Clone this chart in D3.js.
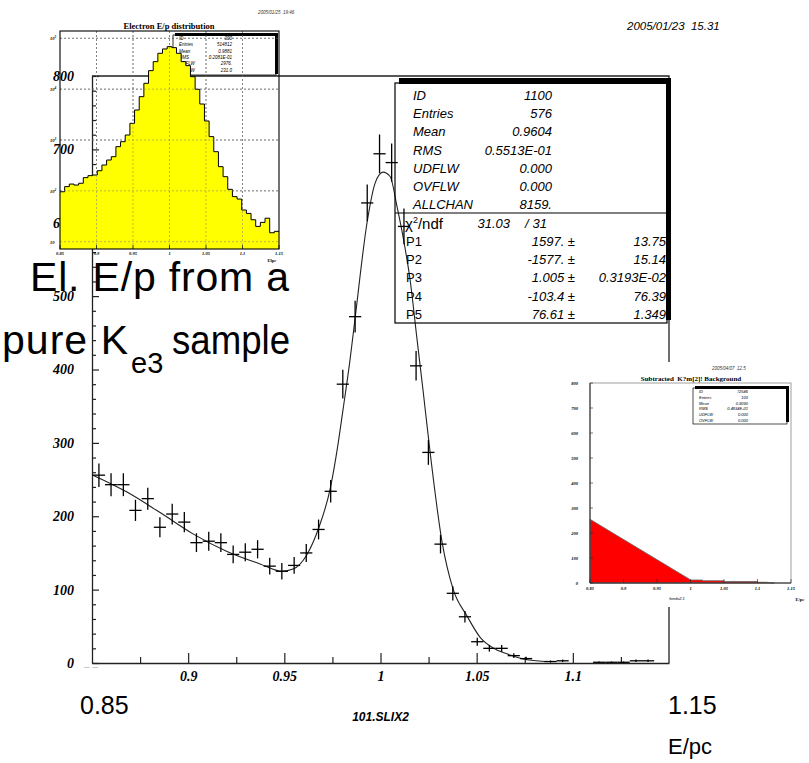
<!DOCTYPE html>
<html><head><meta charset="utf-8">
<script src="https://cdn.jsdelivr.net/npm/d3@7"></script>
<style>body{margin:0;background:#fff}svg{display:block}</style>
</head><body>
<svg id="c" width="809" height="763"></svg>
<script>
// ---------- main histogram (ID 1100) ----------
const binCenters = [0.8536,0.8599,0.8663,0.8726,0.8790,0.8853,0.8917,0.8980,0.9043,0.9107,0.9170,0.9234,0.9297,0.9361,0.9424,0.9487,0.9551,0.9614,0.9678,0.9741,0.9804,0.9868,0.9931,0.9995,1.0058,1.0122,1.0185,1.0249,1.0312,1.0376,1.0439,1.0503,1.0566,1.0630,1.0693,1.0757,1.0884,1.0947,1.1137,1.1201,1.1264,1.1328,1.1391];
const counts = [256,243,243,208,224,185,203,192,164,166,164,148,151,155,132,125,133,150,182,234,380,472,627,694,682,595,405,287,162,95,63,29,20,20,10,6,2,3,1,1,1,3,3];
const errors = [16,15.6,15.6,14.4,15,13.6,14.2,13.9,12.8,12.9,12.8,12.2,12.3,12.4,11.5,11.2,11.5,12.2,13.5,15.3,19.5,21.7,25,26.3,26.1,24.4,20.1,16.9,12.7,9.7,7.9,5.4,4.5,4.5,3.2,2.4,1.4,1.7,1,1,1,1.7,1.7];
const binWidth = 0.00634;
const fitX = [0.8505,0.8682,0.8854,0.9025,0.9202,0.9374,0.9488,0.9545,0.9618,0.9680,0.9738,0.9779,0.9805,0.9840,0.9868,0.9930,0.9972,1.0013,1.0050,1.0086,1.0117,1.0154,1.0190,1.0221,1.0258,1.0320,1.0377,1.0450,1.0518,1.0596,1.0674,1.0752,1.0856];
const fitY = [256,233,205,176,152,135,125,128,148,185,237,298,345,410,470,600,654,669,663,622,581,522,441,372,287,165,101,64,35,19,11,5,2];
const xMajor = [0.9,0.95,1,1.05,1.1];
const xMinor = [0.875,0.925,0.975,1.025,1.075,1.125];
const yMajor = [0,100,200,300,400,500,600,700,800];
const yMinor = [20,40,60,80,120,140,160,180,220,240,260,280,320,340,360,380,420,440,460,480,520,540,560,580,620,640,660,680,720,740,760,780];
const statLabels = ["ID","Entries","Mean","RMS","UDFLW","OVFLW","ALLCHAN"];
const statValues = ["1100","576","0.9604","0.5513E-01","0.000","0.000","8159."];
const parLabels = ["P1","P2","P3","P4","P5"];
const parValues = ["1597.","-1577.","1.005","-103.4","76.61"];
const parErrors = ["13.75","15.14","0.3193E-02","76.39","1.349"];

// ---------- inset 1: Electron E/p distribution (log) ----------
const insetCounts = [96,121,136,130,141,182,199,205,249,322,404,470,740,927,1254,2128,3890,7116,13030,23120,34750,50700,61700,68500,65500,50700,34750,29000,17600,9930,5100,2366,1165,589,299,190,107,77,69,42,36,27,20,24,29,15,16];
const insetXTicks = [0.85,0.9,0.95,1,1.05,1.1,1.15];
const insetYDecades = [10,100,1000,10000,100000];
const insetYExp = ["","2","3","4","5"];
const inset1Labels = ["ID","Entries","Mean","RMS","UDFLW","OVFLW"];
const inset1Values = ["300","514812","0.9881","0.2081E-01","2976.","231.0"];

// ---------- inset 2: Subtracted background ----------
const bgX = [0.85,0.998,1.0,1.018,1.018,1.05,1.05,1.1,1.1,1.115,1.115,1.125];
const bgY = [255,16,12,12,9,9,6,6,3,3,1.5,0];
const inset2XTicks = [0.85,0.9,0.95,1,1.05,1.1,1.15];
const inset2XLabels = ["0.85","0.9","0.95","1","1.05","1.1","1.15"];
const inset2YTicks = [0,100,200,300,400,500,600,700,800];
const inset2Labels = ["ID","Entries","Mean","RMS","UDFLW","OVFLW"];
const inset2Values = ["72546","100","0.9090","0.4834E-01","0.000","0.000"];

const svg = d3.select("#c");
svg.append("rect").attr("width",809).attr("height",763).attr("fill","#fff");

const SERIF = "'Liberation Serif','DejaVu Serif',serif";
const SANS = "'Liberation Sans',Arial,sans-serif";

// ================= MAIN PLOT =================
const x = d3.scaleLinear([0.85,1.15],[92,669]);
const y = d3.scaleLinear([0,800],[663,76]);
const main = svg.append("g");

main.append("path").attr("d",`M${x(0.85)},${y(800)}H${x(1.15)}V${y(0)}`)
  .attr("fill","none").attr("stroke","#222").attr("stroke-width",1.3);

main.append("g").attr("transform",`translate(${x(0.85)},0)`)
  .call(d3.axisLeft(y).tickValues(yMajor).tickSizeInner(-7).tickSizeOuter(0).tickPadding(18).tickFormat(d3.format("d")));
main.append("g").attr("transform",`translate(${x(0.85)},0)`)
  .call(d3.axisLeft(y).tickValues(yMinor).tickSizeInner(-4).tickSizeOuter(0).tickFormat(""))
  .select(".domain").remove();
main.append("g").attr("transform",`translate(0,${y(0)})`)
  .call(d3.axisBottom(x).tickValues(xMajor).tickSizeInner(-10).tickSizeOuter(0).tickPadding(8).tickFormat(d => d3.format("")(d)));
main.append("g").attr("transform",`translate(0,${y(0)})`)
  .call(d3.axisBottom(x).tickValues(xMinor).tickSizeInner(-6).tickSizeOuter(0).tickFormat(""))
  .select(".domain").remove();
main.selectAll(".domain").attr("stroke","#222").attr("stroke-width",1.3);
main.selectAll(".tick line").attr("stroke","#222").attr("stroke-width",1.2);
main.selectAll(".tick text").attr("font-family",SERIF).attr("font-weight","bold")
  .attr("font-style","italic").attr("font-size",14).attr("fill","#000");

main.append("text").attr("x",x(0.85)-8).attr("y",y(0)+3).attr("font-size",10)
  .attr("fill","#bbb").attr("font-family",SANS).text("_ _");

// fit curve
const pts = fitX.map((v,i)=>[v,fitY[i]]);
main.append("path").datum(pts)
  .attr("d",d3.line().x(d=>x(d[0])).y(d=>y(d[1])).curve(d3.curveMonotoneX))
  .attr("fill","none").attr("stroke","#222").attr("stroke-width",1.1);

// crosses
const cr = main.append("g").attr("stroke","#000").attr("stroke-width",1.3);
binCenters.forEach((c,i)=>{
  cr.append("line").attr("x1",x(c-binWidth/2)).attr("x2",x(c+binWidth/2))
    .attr("y1",y(counts[i])).attr("y2",y(counts[i]));
  cr.append("line").attr("x1",x(c)).attr("x2",x(c))
    .attr("y1",y(counts[i]-errors[i])).attr("y2",y(counts[i]+errors[i]));
});

// stats box
const sb = main.append("g");
sb.append("rect").attr("x",399).attr("y",78).attr("width",272).attr("height",6).attr("fill","#000");
sb.append("rect").attr("x",666).attr("y",78).attr("width",5).attr("height",242).attr("fill","#000");
sb.append("rect").attr("x",395).attr("y",83).attr("width",272).attr("height",240)
  .attr("fill","none").attr("stroke","#000").attr("stroke-width",1.2);
sb.append("line").attr("x1",395).attr("x2",667).attr("y1",213).attr("y2",213)
  .attr("stroke","#000").attr("stroke-width",1.2);
const st = sb.append("g").attr("font-family",SANS).attr("font-style","italic").attr("font-size",13).attr("fill","#000");
statLabels.forEach((l,i)=>{
  st.append("text").attr("x",413).attr("y",100+i*18.2).text(l);
  st.append("text").attr("x",552).attr("y",100+i*18.2).attr("text-anchor","end").text(statValues[i]);
});
const chi = sb.append("text").attr("x",405).attr("y",229).attr("font-family",SANS).attr("font-size",15);
chi.append("tspan").text("χ");
chi.append("tspan").attr("font-size",9).attr("dy",-6).text("2");
chi.append("tspan").attr("dy",6).text("/ndf");
st.append("text").attr("x",510).attr("y",228).attr("text-anchor","end").text("31.03");
st.append("text").attr("x",525).attr("y",228).text("/");
st.append("text").attr("x",547).attr("y",228).attr("text-anchor","end").text("31");
parLabels.forEach((l,i)=>{
  const yy = 246+i*18.2;
  st.append("text").attr("x",406).attr("y",yy).attr("font-style","normal").text(l);
  st.append("text").attr("x",575).attr("y",yy).attr("text-anchor","end").text(parValues[i]+" \u00b1");
  st.append("text").attr("x",666).attr("y",yy).attr("text-anchor","end").text(parErrors[i]);
});

svg.append("text").attr("x",x(1)).attr("y",721).attr("text-anchor","middle")
  .attr("font-family",SANS).attr("font-style","italic").attr("font-weight","bold").attr("font-size",12).text("101.SLIX2");
svg.append("text").attr("x",627).attr("y",30).attr("font-family",SANS)
  .attr("font-style","italic").attr("font-size",11.5).attr("xml:space","preserve").text("2005/01/23  15.31");

// ================= INSET 1 (log) =================
const xi = d3.scaleLinear([0.85,1.15],[60,279]);
const yi = d3.scaleLog([10,100000],[241.7,38.3]);
const ins = svg.append("g");
ins.append("text").attr("x",258).attr("y",14).attr("font-family",SANS).attr("font-style","italic")
  .attr("font-size",4.5).attr("fill","#333").attr("xml:space","preserve").text("2005/01/25  19:46");
ins.append("text").attr("x",169).attr("y",29).attr("text-anchor","middle").attr("font-family",SERIF)
  .attr("font-weight","bold").attr("font-size",8.5).text("Electron E/p distribution");
const grid = ins.append("g").attr("stroke","#444").attr("stroke-width",0.6).attr("stroke-dasharray","2,2");
insetXTicks.slice(1,-1).forEach(t=>grid.append("line").attr("x1",xi(t)).attr("x2",xi(t)).attr("y1",31).attr("y2",249));
insetYDecades.forEach(t=>grid.append("line").attr("x1",60).attr("x2",279).attr("y1",yi(t)).attr("y2",yi(t)));
const isb = ins.append("g");
isb.append("rect").attr("x",175).attr("y",33).attr("width",103).attr("height",3).attr("fill","#000");
isb.append("rect").attr("x",275).attr("y",33).attr("width",3).attr("height",41).attr("fill","#000");
isb.append("rect").attr("x",173).attr("y",35).attr("width",103).attr("height",40).attr("fill","none").attr("stroke","#000").attr("stroke-width",0.8);
inset1Labels.forEach((l,i)=>{
  isb.append("text").attr("x",179).attr("y",40+i*6.3).attr("font-family",SANS).attr("font-style","italic").attr("font-size",4.5).text(l);
  isb.append("text").attr("x",232).attr("y",40+i*6.3).attr("text-anchor","end").attr("font-family",SANS).attr("font-style","italic").attr("font-size",4.5).text(inset1Values[i]);
});
const wI = 0.3/insetCounts.length;
const hp = insetCounts.map((c,i)=>[0.85+i*wI,c]);
hp.push([1.15,insetCounts[insetCounts.length-1]]);
ins.append("path").datum(hp)
  .attr("d",d3.area().x(d=>xi(d[0])).y0(249).y1(d=>yi(d[1])).curve(d3.curveStepAfter))
  .attr("fill","#ffff00");
ins.append("path").datum(hp)
  .attr("d",d3.line().x(d=>xi(d[0])).y(d=>yi(d[1])).curve(d3.curveStepAfter))
  .attr("fill","none").attr("stroke","#000").attr("stroke-width",1);
const grid2 = ins.append("g").attr("stroke","#777").attr("stroke-width",0.5).attr("stroke-dasharray","2,2");
insetXTicks.slice(1,-1).forEach(t=>grid2.append("line").attr("x1",xi(t)).attr("x2",xi(t)).attr("y1",31).attr("y2",249));
insetYDecades.forEach(t=>grid2.append("line").attr("x1",60).attr("x2",279).attr("y1",yi(t)).attr("y2",yi(t)));
ins.append("rect").attr("x",60).attr("y",31).attr("width",219).attr("height",218)
  .attr("fill","none").attr("stroke","#000").attr("stroke-width",1.1);
insetXTicks.forEach(t=>ins.append("line").attr("x1",xi(t)).attr("x2",xi(t)).attr("y1",249).attr("y2",245).attr("stroke","#000").attr("stroke-width",0.7));
insetXTicks.forEach(t=>ins.append("text").attr("x",xi(t)).attr("y",254.5).attr("text-anchor","middle")
  .attr("font-family",SERIF).attr("font-style","italic").attr("font-weight","bold").attr("font-size",4.5).text(d3.format("")(t)));
ins.append("text").attr("x",272).attr("y",262).attr("text-anchor","middle").attr("font-family",SERIF)
  .attr("font-weight","bold").attr("font-size",4.5).text("Elpc");
insetYDecades.forEach((t,i)=>{
  const tx = ins.append("text").attr("x",50).attr("y",yi(t)+2).attr("font-family",SERIF)
    .attr("font-style","italic").attr("font-weight","bold").attr("font-size",4.5);
  tx.append("tspan").text("10");
  if(insetYExp[i]) tx.append("tspan").attr("dy",-2).attr("font-size",3.5).text(insetYExp[i]);
});

// ================= INSET 2 =================
const xb = d3.scaleLinear([0.85,1.15],[590,791]);
const yb = d3.scaleLinear([0,800],[583,383]);
const in2 = svg.append("g");
in2.append("rect").attr("x",566).attr("y",362).attr("width",243).attr("height",245).attr("fill","#fff");
in2.append("text").attr("x",712).attr("y",370).attr("font-family",SANS).attr("font-style","italic")
  .attr("font-size",4.5).attr("fill","#333").attr("xml:space","preserve").text("2005/04/07  12.5");
in2.append("text").attr("x",691).attr("y",381).attr("text-anchor","middle").attr("font-family",SERIF)
  .attr("font-weight","bold").attr("font-size",7).attr("xml:space","preserve").text("Subtracted  K?m[2]! Background");
const bgPts = bgX.map((v,i)=>[v,bgY[i]]);
in2.append("path").datum(bgPts)
  .attr("d",d3.area().x(d=>xb(d[0])).y0(yb(0)).y1(d=>yb(d[1])))
  .attr("fill","#ff0000").attr("stroke","#666").attr("stroke-width",0.8);
in2.append("rect").attr("x",590).attr("y",383).attr("width",201).attr("height",200)
  .attr("fill","none").attr("stroke","#888").attr("stroke-width",0.8);
in2.append("path").attr("d",`M590,383V583H791`).attr("fill","none").attr("stroke","#222").attr("stroke-width",1);
inset2YTicks.forEach(t=>{
  in2.append("line").attr("x1",590).attr("x2",593).attr("y1",yb(t)).attr("y2",yb(t)).attr("stroke","#222").attr("stroke-width",0.6);
  in2.append("text").attr("x",578).attr("y",yb(t)+1.5).attr("text-anchor","end").attr("font-family",SERIF)
    .attr("font-style","italic").attr("font-weight","bold").attr("font-size",4.5).text(t);
});
inset2XTicks.forEach((t,i)=>{
  in2.append("line").attr("x1",xb(t)).attr("x2",xb(t)).attr("y1",583).attr("y2",579).attr("stroke","#222").attr("stroke-width",0.6);
  in2.append("text").attr("x",xb(t)).attr("y",589.5).attr("text-anchor","middle").attr("font-family",SERIF)
    .attr("font-style","italic").attr("font-weight","bold").attr("font-size",4.5).text(inset2XLabels[i]);
});
in2.append("text").attr("x",800).attr("y",601).attr("text-anchor","middle").attr("font-family",SERIF)
  .attr("font-weight","bold").attr("font-size",4.5).text("E/pc");
in2.append("text").attr("x",677).attr("y",600).attr("text-anchor","middle").attr("font-family",SANS)
  .attr("font-style","italic").attr("font-size",4).text("fondo2.1");
in2.append("rect").attr("x",695).attr("y",386).attr("width",94).attr("height",3).attr("fill","#000");
in2.append("rect").attr("x",786).attr("y",386).attr("width",3).attr("height",36).attr("fill","#000");
in2.append("rect").attr("x",693).attr("y",388).attr("width",94).attr("height",36).attr("fill","none").attr("stroke","#000").attr("stroke-width",0.7);
inset2Labels.forEach((l,i)=>{
  in2.append("text").attr("x",699).attr("y",393+i*5.8).attr("font-family",SANS).attr("font-style","italic").attr("font-size",4).text(l);
  in2.append("text").attr("x",748).attr("y",393+i*5.8).attr("text-anchor","end").attr("font-family",SANS).attr("font-style","italic").attr("font-size",4).text(inset2Values[i]);
});

// ================= ANNOTATIONS =================
const ann = svg.append("g").attr("font-family",SANS).attr("fill","#000");
ann.append("text").attr("x",30).attr("y",291).attr("font-size",41)
  .attr("textLength",259).attr("lengthAdjust","spacing").text("El. E/p from a");
ann.append("text").attr("x",2).attr("y",354).attr("font-size",41)
  .attr("textLength",126).attr("lengthAdjust","spacing").text("pure K");
ann.append("text").attr("x",131).attr("y",373).attr("font-size",29).text("e3");
ann.append("text").attr("x",172).attr("y",354).attr("font-size",41)
  .attr("textLength",118).attr("lengthAdjust","spacingAndGlyphs").text("sample");
ann.append("text").attr("x",80).attr("y",714).attr("font-size",25).text("0.85");
ann.append("text").attr("x",668).attr("y",714).attr("font-size",25).text("1.15");
ann.append("text").attr("x",668).attr("y",754).attr("font-size",22).text("E/pc");
</script>
</body></html>
